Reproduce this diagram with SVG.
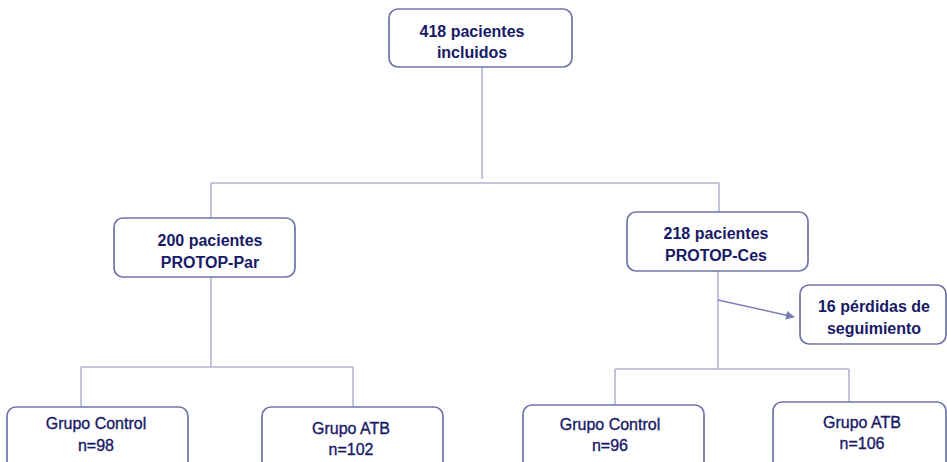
<svg xmlns="http://www.w3.org/2000/svg" width="947" height="462" viewBox="0 0 947 462">
<defs>
<style>
.box{fill:#fff;stroke:#6f73aa;stroke-width:1.7}
.t{font-family:"Liberation Sans",Arial,sans-serif;font-size:16px;fill:#181a66;text-anchor:middle}
.b{font-weight:bold}
.r{stroke:#181a66;stroke-width:0.35}
.ln{stroke:#b3b5d4;stroke-width:1.6;fill:none}
.ar{stroke:#7a7fb2;stroke-width:1.4;fill:none}
</style>
<marker id="ah" viewBox="0 0 10 10" refX="9" refY="5" markerWidth="9" markerHeight="9" markerUnits="userSpaceOnUse" orient="auto">
<path d="M0,0 L10,5 L0,10 z" fill="#7a7fb2"/>
</marker>
</defs>
<rect width="947" height="462" fill="#fff"/>
<g id="connectors">
<path class="ln" d="M482,67 V179"/>
<path class="ln" d="M211,183 H719"/>
<path class="ln" d="M211,183 V218"/>
<path class="ln" d="M719,183 V212"/>
<path class="ln" d="M211,277 V367"/>
<path class="ln" d="M81,367 H353"/>
<path class="ln" d="M81,367 V407"/>
<path class="ln" d="M353,367 V407"/>
<path class="ln" d="M718,271 V369"/>
<path class="ln" d="M615,369 H849"/>
<path class="ln" d="M615,369 V405"/>
<path class="ln" d="M849,369 V402"/>
<path class="ar" d="M718,300 L794,317" marker-end="url(#ah)"/>
</g>
<g id="n418">
<rect class="box" x="389" y="9" width="183" height="58" rx="9"/>
<text class="t b" x="472" y="37">418 pacientes</text>
<text class="t b" x="472" y="58">incluidos</text>
</g>
<g id="n200">
<rect class="box" x="114" y="218" width="181" height="59" rx="9"/>
<text class="t b" x="210" y="246">200 pacientes</text>
<text class="t b" x="210" y="268">PROTOP-Par</text>
</g>
<g id="n218">
<rect class="box" x="627" y="212" width="181" height="59" rx="9"/>
<text class="t b" x="716" y="239">218 pacientes</text>
<text class="t b" x="716" y="261">PROTOP-Ces</text>
</g>
<g id="n16">
<rect class="box" x="800" y="285" width="146" height="59" rx="9"/>
<text class="t b" x="874" y="312">16 pérdidas de</text>
<text class="t b" x="874" y="334">seguimiento</text>
</g>
<g id="c98">
<rect class="box" x="7" y="407" width="181" height="70" rx="9"/>
<text class="t r" x="96" y="429">Grupo Control</text>
<text class="t r" x="96" y="451">n=98</text>
</g>
<g id="a102">
<rect class="box" x="262" y="407" width="181" height="70" rx="9"/>
<text class="t r" x="351" y="434">Grupo ATB</text>
<text class="t r" x="351" y="455">n=102</text>
</g>
<g id="c96">
<rect class="box" x="523" y="405" width="181" height="70" rx="9"/>
<text class="t r" x="610" y="430">Grupo Control</text>
<text class="t r" x="610" y="451">n=96</text>
</g>
<g id="a106">
<rect class="box" x="773" y="402" width="173" height="70" rx="9"/>
<text class="t r" x="862" y="428">Grupo ATB</text>
<text class="t r" x="862" y="449">n=106</text>
</g>
</svg>
